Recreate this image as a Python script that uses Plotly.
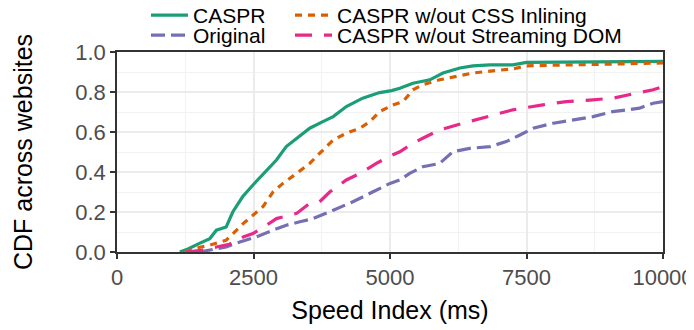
import plotly.graph_objects as go

# ---- data ----
caspr_x = [1150, 1300, 1500, 1700, 1820, 2000, 2120, 2300, 2490, 2740, 2920, 3100, 3290, 3530, 3770, 3960,
           4200, 4500, 4810, 5030, 5180, 5420, 5730, 5970, 6280, 6520, 6830, 7250, 7500, 9080, 10000]
caspr_y = [0.0, 0.015, 0.042, 0.067, 0.109, 0.125, 0.20, 0.276, 0.335, 0.41, 0.46, 0.527, 0.569, 0.619, 0.652,
           0.677, 0.727, 0.769, 0.797, 0.807, 0.819, 0.844, 0.861, 0.895, 0.92, 0.931, 0.936, 0.936, 0.948, 0.953, 0.953]

css_x = [1250, 1450, 1700, 2000, 2125, 2310, 2490, 2670, 2860, 3040, 3290, 3530, 3710, 3960, 4200, 4450, 4630,
         4810, 5055, 5240, 5420, 5600, 5910, 6220, 6520, 6950, 7250, 7500, 8470, 9080, 10000]
css_y = [0.0, 0.02, 0.034, 0.059, 0.092, 0.142, 0.184, 0.226, 0.301, 0.343, 0.393, 0.443, 0.493, 0.56, 0.594,
         0.619, 0.652, 0.702, 0.735, 0.752, 0.811, 0.836, 0.861, 0.878, 0.895, 0.908, 0.915, 0.931, 0.936, 0.941, 0.945]

orig_x = [1500, 1700, 2000, 2250, 2550, 2860, 3100, 3350, 3590, 3960, 4320, 4690, 4810, 5000, 5180, 5360, 5600,
          5910, 6150, 6460, 6830, 7130, 7380, 7620, 7990, 8350, 8720, 9080, 9570, 9820, 10000]
orig_y = [0.0, 0.009, 0.025, 0.05, 0.075, 0.109, 0.134, 0.151, 0.167, 0.209, 0.251, 0.301, 0.318, 0.343, 0.36,
          0.393, 0.426, 0.443, 0.501, 0.518, 0.527, 0.552, 0.585, 0.619, 0.644, 0.661, 0.677, 0.702, 0.719, 0.744, 0.752]

sdom_x = [1270, 1575, 1820, 2060, 2310, 2490, 2740, 2920, 3290, 3530, 3710, 3900, 4200, 4450, 4750, 5000, 5180,
          5420, 5600, 5910, 6340, 6770, 7250, 7800, 8230, 8720, 9080, 9510, 9820, 10000]
sdom_y = [0.0, 0.009, 0.025, 0.039, 0.075, 0.092, 0.134, 0.167, 0.193, 0.243, 0.251, 0.301, 0.36, 0.393, 0.443,
          0.48, 0.501, 0.544, 0.569, 0.61, 0.644, 0.677, 0.711, 0.736, 0.752, 0.761, 0.769, 0.794, 0.811, 0.827]

x_ticks = [0, 2500, 5000, 7500, 10000]
y_ticks = [0.0, 0.2, 0.4, 0.6, 0.8, 1.0]

series = [
    ("CASPR", caspr_x, caspr_y, "#1b9e77", "solid", "legend"),
    ("CASPR w/out CSS Inlining", css_x, css_y, "#d95f02", "7px,6px", "legend3"),
    ("Original", orig_x, orig_y, "#7570b3", "14px,6px", "legend2"),
    ("CASPR w/out Streaming DOM", sdom_x, sdom_y, "#e7298a", "17px,12px", "legend4"),
]

FONT = "Liberation Sans, Arial, sans-serif"

fig = go.Figure()
for name, xs, ys, color, dash, leg in series:
    fig.add_trace(go.Scatter(
        x=xs, y=ys, mode="lines", name=name, legend=leg,
        line=dict(color=color, width=3.2, dash=dash),
    ))

# the page body adds an 8px offset; compensate so the plot lands where the reference has it
OFF = 8
W, H = 694, 330
ML, MR, MT, MB = 117 - OFF, 31 + OFF, 52 - OFF, 78 + OFF
PH = H - MT - MB
PW = W - ML - MR


def legend_at(px_left, px_top):
    return dict(
        x=(px_left - OFF - ML) / PW, xanchor="left",
        y=1 + (MT - (px_top - OFF)) / PH, yanchor="top",
        orientation="v", bgcolor="rgba(0,0,0,0)", borderwidth=0,
        font=dict(family=FONT, size=21, color="#000000"),
        itemwidth=37,
    )


fig.update_layout(
    width=W, height=H,
    margin=dict(l=ML, r=MR, t=MT, b=MB, autoexpand=False),
    paper_bgcolor="white", plot_bgcolor="white",
    font=dict(family=FONT, size=22, color="#4d4d4d"),
    legend=legend_at(146, -5),
    legend2=legend_at(146, 15),
    legend3=legend_at(290, -5),
    legend4=legend_at(290, 15),
    showlegend=True,
)

fig.update_xaxes(
    range=[0, 10000], tickvals=x_ticks, ticktext=[str(v) for v in x_ticks],
    showline=True, linecolor="#333333", linewidth=1.5, mirror=True,
    ticks="outside", ticklen=5, tickwidth=1.5, tickcolor="#333333",
    tickfont=dict(family=FONT, size=22, color="#4d4d4d"),
    showgrid=True, gridcolor="#ebebeb", gridwidth=1.5,
    minor=dict(dtick=1250, tick0=0, showgrid=True, gridcolor="#f2f2f2", gridwidth=0.8, ticks=""),
    zeroline=False,
    title=dict(text="Speed Index (ms)", font=dict(family=FONT, size=25, color="#000000"), standoff=12),
)
fig.update_yaxes(
    range=[0, 1], tickvals=y_ticks, ticktext=[f"{v:.1f}" for v in y_ticks],
    showline=True, linecolor="#333333", linewidth=1.5, mirror=True,
    ticks="outside", ticklen=5, tickwidth=1.5, tickcolor="#333333",
    tickfont=dict(family=FONT, size=22, color="#4d4d4d"),
    showgrid=True, gridcolor="#ebebeb", gridwidth=1.5,
    minor=dict(dtick=0.1, tick0=0, showgrid=True, gridcolor="#f2f2f2", gridwidth=0.8, ticks=""),
    zeroline=False,
    title=dict(text="CDF across websites", font=dict(family=FONT, size=25, color="#000000"), standoff=36),
)

fig.write_html("out.html")
